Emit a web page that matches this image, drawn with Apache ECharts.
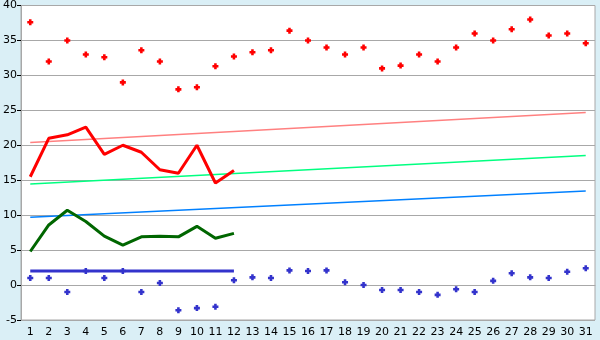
<!DOCTYPE html>
<html><head><meta charset="utf-8">
<script src="https://cdn.jsdelivr.net/npm/echarts@6/dist/echarts.min.js"></script>
<style>html,body{margin:0;padding:0;background:#DAEFF6;}#c{width:600px;height:340px;}</style>
</head><body><div id="c"></div>
<script>
const categories = ['1','2','3','4','5','6','7','8','9','10','11','12','13','14','15','16','17','18','19','20','21','22','23','24','25','26','27','28','29','30','31'];
const redDots = [37.6,32.0,35.0,33.0,32.6,29.0,33.6,32.0,28.0,28.3,31.3,32.7,33.3,33.6,36.4,35.0,34.0,33.0,34.0,31.0,31.4,33.0,32.0,34.0,36.0,35.0,36.6,38.0,35.7,36.0,34.6];
const blueDots = [1.0,1.0,-1.0,2.0,1.0,2.0,-1.0,0.3,-3.6,-3.3,-3.1,0.7,1.1,1.0,2.1,2.0,2.1,0.4,0.0,-0.7,-0.7,-1.0,-1.4,-0.6,-1.0,0.6,1.7,1.1,1.0,1.9,2.4];
const redLine = [15.5,21.0,21.5,22.6,18.7,20.0,19.0,16.5,16.0,20.0,14.6,16.4];
const greenLine = [4.8,8.6,10.7,9.1,7.0,5.7,6.9,7.0,6.9,8.4,6.7,7.4];
const blueLine = [2.0,2.0,2.0,2.0,2.0,2.0,2.0,2.0,2.0,2.0,2.0,2.0];
const pinkTrend = [[0,20.4],[30,24.7]];
const lightGreenTrend = [[0,14.45],[30,18.55]];
const lightBlueTrend = [[0,9.7],[30,13.45]];
const yTicks = {min:-5, max:40, interval:5};

const markerPath = 'path://M2,0H5V2H7V5H5V7H2V5H0V2H2Z';
const chart = echarts.init(document.getElementById('c'), null, {renderer:'canvas'});
const lineS = (data, color, w, z) => ({type:'line', data, symbol:'none', lineStyle:{color, width:w}, itemStyle:{color}, z, animation:false});
chart.setOption({
  animation:false,
  backgroundColor:'#DAEFF6',
  grid:{left:21, right:5, top:5, bottom:20, show:true, backgroundColor:'#fff', borderColor:'#A8A8A8', borderWidth:1},
  xAxis:{type:'category', data:categories, boundaryGap:true,
    axisLine:{lineStyle:{color:'#A8A8A8', width:1}},
    axisTick:{alignWithLabel:true, length:4, lineStyle:{color:'#000'}},
    axisLabel:{color:'#000', fontFamily:'DejaVu Sans', fontSize:11, margin:7, interval:0},
    splitLine:{show:false}},
  yAxis:{type:'value', min:yTicks.min, max:yTicks.max, interval:yTicks.interval,
    axisLine:{show:true, lineStyle:{color:'#A8A8A8', width:1}},
    axisTick:{show:true, length:4, lineStyle:{color:'#000'}},
    axisLabel:{color:'#000', fontFamily:'DejaVu Sans', fontSize:11, margin:4},
    splitLine:{lineStyle:{color:'#A8A8A8', width:1}}},
  series:[
    lineS(pinkTrend,'#FF8080',1.5,2),
    lineS(lightGreenTrend,'#00FF80',1.5,2),
    lineS(lightBlueTrend,'#0080FF',1.5,2),
    lineS(blueLine,'#3333CC',3,3),
    lineS(greenLine,'#006600',3,4),
    lineS(redLine,'#FF0000',3,5),
    {type:'scatter', data:redDots, symbol:markerPath, symbolSize:6, itemStyle:{color:'#FF0000', opacity:1}, z:6},
    {type:'scatter', data:blueDots, symbol:markerPath, symbolSize:6, itemStyle:{color:'#3333CC', opacity:1}, z:6}
  ]
});
</script></body></html>
